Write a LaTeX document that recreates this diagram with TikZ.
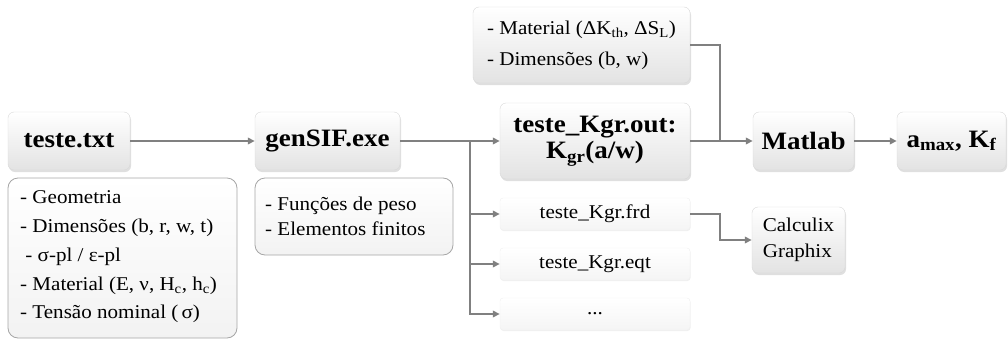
\documentclass[tikz,border=0pt]{standalone}
\usepackage{fontspec}
\setmainfont[FakeStretch=1.08]{Liberation Serif}
\usetikzlibrary{arrows.meta,shadows}
\begin{document}
\begin{tikzpicture}[x=1pt,y=-1pt,
  mainbox/.style={rectangle,rounded corners=6pt,draw=gray!30,top color=white,bottom color=gray!22,
    drop shadow={shadow xshift=1pt,shadow yshift=-2pt,opacity=0.25,fill=gray},
    inner sep=0pt,align=center},
  infobox/.style={rectangle,rounded corners=10pt,draw=gray!70,line width=0.8pt,top color=white,bottom color=gray!10,
    inner sep=0pt},
  filebox/.style={rectangle,rounded corners=3pt,draw=gray!12,top color=white,bottom color=gray!8,
    drop shadow={shadow xshift=0.5pt,shadow yshift=-1pt,opacity=0.12,fill=gray},
    inner sep=0pt,align=center,font=\fontsize{19.5}{22}\selectfont},
  bigtxt/.style={font=\fontsize{25}{28}\selectfont\bfseries},
  conn/.style={line width=2.7pt,draw=gray},
  arr/.style={conn,-{Triangle[length=7pt,width=6.5pt]}},
]
\useasboundingbox (0,0) rectangle (1008,340);
% main boxes
\node[mainbox,bigtxt,minimum width=122,minimum height=58] (txt) at (69,141) {teste.txt};
\node[mainbox,bigtxt,minimum width=145,minimum height=58] (gen) at (327.5,141) {genSIF.exe};
\node[mainbox,bigtxt,minimum width=190,minimum height=76] (out) at (595,141)
  {teste\_Kgr.out:\\[-2pt]K\textsubscript{gr}(a/w)};
\node[mainbox,bigtxt,minimum width=101,minimum height=58] (matlab) at (803.5,141) {Matlab};
\node[mainbox,bigtxt,minimum width=109,minimum height=58] (amax) at (951.5,141)
  {a\textsubscript{max}, K\textsubscript{f}};
\node[mainbox,minimum width=217,minimum height=76,align=left,
  font=\fontsize{19.5}{31}\selectfont] (mat) at (581.5,45)
  {- Material (ΔK\textsubscript{th}, ΔS\textsubscript{L})\\- Dimensões (b, w)};
\node[mainbox,minimum width=93,minimum height=66,align=left,
  font=\fontsize{19.5}{26}\selectfont] (calc) at (798.5,240) {Calculix\\Graphix};
% info boxes
\node[infobox,minimum width=229,minimum height=160] (par) at (122.5,258) {};
\node[anchor=west,align=left,inner sep=0pt,font=\fontsize{19.5}{28.7}\selectfont] (partxt) at (20,257)
  {- Geometria\\- Dimensões (b, r, w, t)\\\ - σ-pl / ε-pl\\- Material (E, ν, H\textsubscript{c}, h\textsubscript{c})\\- Tensão nominal (\,σ)};
\node[infobox,minimum width=198,minimum height=77] (fun) at (354,216.5) {};
\node[anchor=west,align=left,inner sep=0pt,font=\fontsize{19.5}{25}\selectfont] (funtxt) at (265,216)
  {- Funções de peso\\- Elementos finitos};
% file boxes
\node[filebox,minimum width=190,minimum height=32] (frd) at (595,214) {teste\_Kgr.frd};
\node[filebox,minimum width=190,minimum height=32] (eqt) at (595,264) {teste\_Kgr.eqt};
\node[filebox,minimum width=190,minimum height=32] (dots) at (595,314) {...};
% junctions
\coordinate (split) at (470,141);
\coordinate (join) at (720,141);
% connectors
\draw[arr] (txt.east) -- (gen.west);
\draw[arr] (gen.east) -- (out.west);
\draw[arr] (split) |- (frd.west);
\draw[arr] (split) |- (eqt.west);
\draw[arr] (split) |- (dots.west);
\draw[conn] (mat.east) -| (join);
\draw[arr] (out.east) -- (matlab.west);
\draw[arr] (matlab.east) -- (amax.west);
\draw[arr] (frd.east) -- (frd.east -| join) |- (calc.west);
\end{tikzpicture}
\end{document}
